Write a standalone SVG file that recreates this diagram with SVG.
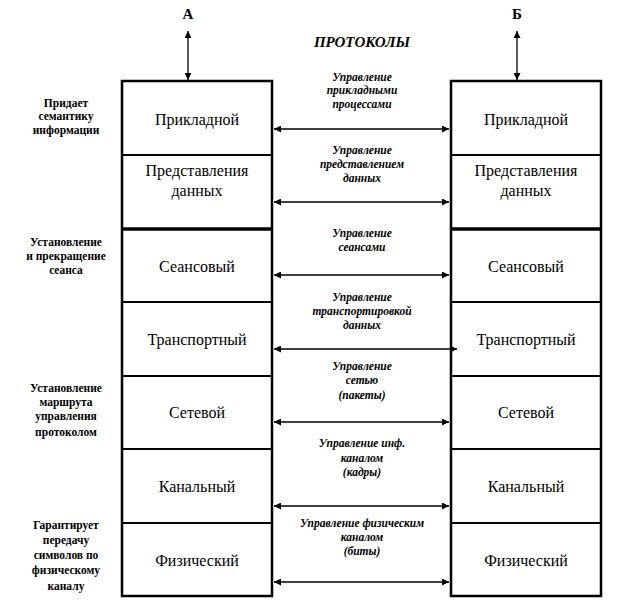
<svg xmlns="http://www.w3.org/2000/svg" width="619" height="603" viewBox="0 0 619 603" xml:lang="ru">
<defs>
<marker id="a" viewBox="0 0 10 10" refX="10" refY="5" markerWidth="9" markerHeight="7" markerUnits="userSpaceOnUse" orient="auto-start-reverse">
<path d="M0,0 L10,5 L0,10 z" fill="#000"/>
</marker>
</defs>
<rect width="619" height="603" fill="#fff"/>
<g id="headers" font-family="Liberation Serif" font-size="15" font-weight="bold" text-anchor="middle">
<text x="188" y="19">А</text>
<text x="517" y="19">Б</text>
<text x="362" y="47" font-style="italic">ПРОТОКОЛЫ</text>
</g>
<g id="stackA" stroke="#000">
<rect x="122" y="81" width="150" height="515" fill="#fff" stroke-width="2.5"/>
<line x1="122" y1="155" x2="272" y2="155" stroke-width="2"/>
<line x1="122" y1="229" x2="272" y2="229" stroke-width="3.5"/>
<line x1="122" y1="302" x2="272" y2="302" stroke-width="2"/>
<line x1="122" y1="376" x2="272" y2="376" stroke-width="2"/>
<line x1="122" y1="449" x2="272" y2="449" stroke-width="2"/>
<line x1="122" y1="523" x2="272" y2="523" stroke-width="2"/>
</g>
<g id="layersA" font-family="Liberation Serif" font-size="16" text-anchor="middle">
<text x="197" y="125">Прикладной</text>
<text x="197" y="176">Представления</text>
<text x="197" y="196">данных</text>
<text x="197" y="272">Сеансовый</text>
<text x="197" y="345">Транспортный</text>
<text x="197" y="418">Сетевой</text>
<text x="197" y="492">Канальный</text>
<text x="197" y="566">Физический</text>
</g>
<g id="stackB" stroke="#000">
<rect x="451" y="81" width="150" height="515" fill="#fff" stroke-width="2.5"/>
<line x1="451" y1="155" x2="601" y2="155" stroke-width="2"/>
<line x1="451" y1="229" x2="601" y2="229" stroke-width="3.5"/>
<line x1="451" y1="302" x2="601" y2="302" stroke-width="2"/>
<line x1="451" y1="376" x2="601" y2="376" stroke-width="2"/>
<line x1="451" y1="449" x2="601" y2="449" stroke-width="2"/>
<line x1="451" y1="523" x2="601" y2="523" stroke-width="2"/>
</g>
<g id="layersB" font-family="Liberation Serif" font-size="16" text-anchor="middle">
<text x="526" y="125">Прикладной</text>
<text x="526" y="176">Представления</text>
<text x="526" y="196">данных</text>
<text x="526" y="272">Сеансовый</text>
<text x="526" y="345">Транспортный</text>
<text x="526" y="418">Сетевой</text>
<text x="526" y="492">Канальный</text>
<text x="526" y="566">Физический</text>
</g>
<g id="sideLabels" font-family="Liberation Serif" font-size="11.5" font-weight="bold" text-anchor="middle">
<text x="66" y="107">Придает</text>
<text x="66" y="120">семантику</text>
<text x="66" y="134">информации</text>
<text x="66" y="246">Установление</text>
<text x="66" y="260">и прекращение</text>
<text x="66" y="274">сеанса</text>
<text x="66" y="392">Установление</text>
<text x="66" y="406">маршрута</text>
<text x="66" y="420">управления</text>
<text x="66" y="436">протоколом</text>
<text x="66" y="529">Гарантирует</text>
<text x="66" y="544">передачу</text>
<text x="66" y="559">символов по</text>
<text x="66" y="574">физическому</text>
<text x="66" y="590">каналу</text>
</g>
<g id="midLabels" font-family="Liberation Serif" font-size="11.5" font-weight="bold" font-style="italic" text-anchor="middle">
<text x="362" y="81">Управление</text>
<text x="362" y="94">прикладными</text>
<text x="362" y="108">процессами</text>
<text x="362" y="154">Управление</text>
<text x="362" y="168">представлением</text>
<text x="362" y="182">данных</text>
<text x="362" y="237">Управление</text>
<text x="362" y="251">сеансами</text>
<text x="362" y="301">Управление</text>
<text x="362" y="315">транспортировкой</text>
<text x="362" y="329">данных</text>
<text x="362" y="370">Управление</text>
<text x="362" y="384">сетью</text>
<text x="362" y="399">(пакеты)</text>
<text x="362" y="447">Управление инф.</text>
<text x="362" y="462">каналом</text>
<text x="362" y="476">(кадры)</text>
<text x="362" y="527">Управление физическим</text>
<text x="362" y="541">каналом</text>
<text x="362" y="555">(биты)</text>
</g>
<g id="connectors" stroke="#000" stroke-width="1.3" marker-start="url(#a)" marker-end="url(#a)">
<line x1="188" y1="31" x2="188" y2="80"/>
<line x1="517" y1="31" x2="517" y2="80"/>
<line x1="274" y1="129" x2="449" y2="129"/>
<line x1="274" y1="202" x2="449" y2="202"/>
<line x1="274" y1="275" x2="449" y2="275"/>
<line x1="274" y1="349" x2="457" y2="349"/>
<line x1="274" y1="422" x2="449" y2="422"/>
<line x1="274" y1="506" x2="449" y2="506"/>
<line x1="274" y1="582" x2="449" y2="582"/>
</g>
</svg>
